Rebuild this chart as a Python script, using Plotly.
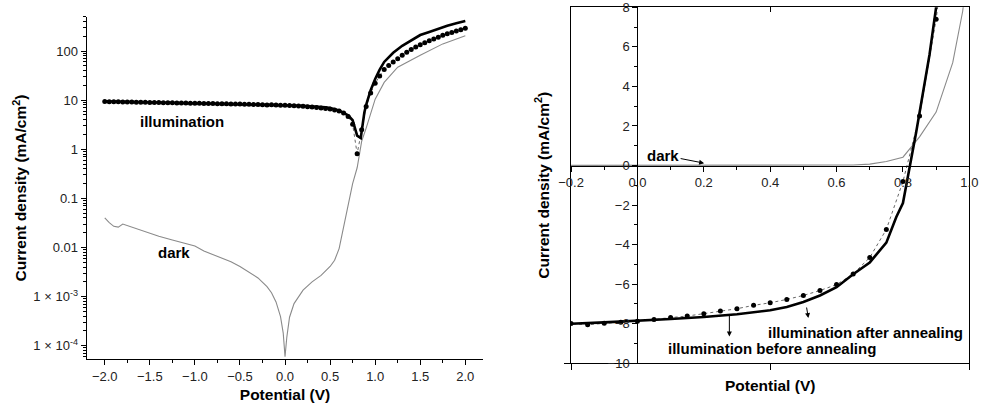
import plotly.graph_objects as go

# ---------------- data ----------------
# illumination before annealing (dots), potential step 0.05 V
v_before = [-2.00, -1.95, -1.90, -1.85, -1.80, -1.75, -1.70, -1.65, -1.60, -1.55,
            -1.50, -1.45, -1.40, -1.35, -1.30, -1.25, -1.20, -1.15, -1.10, -1.05,
            -1.00, -0.95, -0.90, -0.85, -0.80, -0.75, -0.70, -0.65, -0.60, -0.55,
            -0.50, -0.45, -0.40, -0.35, -0.30, -0.25, -0.20, -0.15, -0.10, -0.05,
            0.00, 0.05, 0.10, 0.15, 0.20, 0.25, 0.30, 0.35, 0.40, 0.45,
            0.50, 0.55, 0.60, 0.65, 0.70, 0.75, 0.80, 0.85, 0.90, 0.95,
            1.00, 1.05, 1.10, 1.15, 1.20, 1.25, 1.30, 1.35, 1.40, 1.45,
            1.50, 1.55, 1.60, 1.65, 1.70, 1.75, 1.80, 1.85, 1.90, 1.95, 2.00]
j_before = [-9.35, -9.30, -9.28, -9.25, -9.20, -9.17, -9.13, -9.10, -9.06, -9.02,
            -9.00, -8.96, -8.93, -8.90, -8.86, -8.83, -8.80, -8.76, -8.73, -8.70,
            -8.66, -8.63, -8.60, -8.56, -8.53, -8.50, -8.46, -8.43, -8.40, -8.36,
            -8.33, -8.29, -8.25, -8.20, -8.15, -8.08, -7.99, -8.05, -7.98, -7.92,
            -7.87, -7.78, -7.69, -7.61, -7.49, -7.36, -7.24, -7.07, -6.94, -6.77,
            -6.57, -6.32, -6.02, -5.48, -4.65, -3.23, -0.81, 2.50, 7.40, 14.0,
            22.0, 31.0, 42.0, 51.0, 60.0, 70.0, 82.0, 95.0, 108.0, 121.0,
            135.0, 148.0, 162.0, 177.0, 192.0, 210.0, 225.0, 240.0, 256.0, 273.0, 290.0]

# illumination after annealing (solid line)
v_after = [-2.00, -1.75, -1.50, -1.25, -1.00, -0.75, -0.50, -0.25, -0.20, -0.10,
           0.00, 0.10, 0.20, 0.30, 0.40, 0.45, 0.50, 0.55, 0.60, 0.65,
           0.70, 0.75, 0.78, 0.80, 0.84, 0.86, 0.88, 0.90, 0.95, 1.00,
           1.05, 1.10, 1.20, 1.30, 1.40, 1.50, 1.60, 1.70, 1.80, 1.90, 2.00]
j_after = [-9.50, -9.30, -9.15, -9.00, -8.80, -8.60, -8.40, -8.10, -8.00, -7.93,
           -7.86, -7.76, -7.66, -7.52, -7.32, -7.15, -6.90, -6.57, -6.15, -5.50,
           -4.90, -3.90, -2.60, -1.90, 1.70, 3.60, 5.60, 8.00, 16.0, 27.0,
           42.0, 60.0, 92.0, 128.0, 168.0, 212.0, 245.0, 285.0, 328.0, 370.0, 410.0]

# dark
v_dark = [-2.00, -1.95, -1.90, -1.85, -1.80, -1.70, -1.60, -1.50, -1.40, -1.25,
          -1.10, -1.00, -0.90, -0.80, -0.75, -0.70, -0.60, -0.50, -0.40, -0.30,
          -0.20, -0.15, -0.10, -0.05, -0.02, 0.00, 0.02, 0.05, 0.10, 0.15,
          0.20, 0.30, 0.40, 0.50, 0.55, 0.60, 0.65, 0.70, 0.75, 0.80,
          0.85, 0.90, 0.95, 0.98, 1.00, 1.10, 1.25, 1.50, 1.75, 2.00]
j_dark = [-0.040, -0.032, -0.027, -0.026, -0.030, -0.026, -0.022, -0.0195, -0.017, -0.0142,
          -0.0118, -0.0107, -0.0085, -0.0071, -0.0067, -0.0059, -0.0051, -0.0041, -0.0032, -0.0024,
          -0.0016, -0.0012, -0.00078, -0.00039, -0.00018, 0.00006, 0.00015, 0.00038, 0.00072, 0.0010,
          0.00135, 0.0020, 0.0027, 0.0041, 0.0055, 0.0095, 0.027, 0.070, 0.20, 0.42,
          1.45, 2.70, 5.20, 7.80, 10.5, 23.0, 47.0, 82.0, 140.0, 204.0]

log_tickvals = [1e-4, 1e-3, 0.01, 0.1, 1, 10, 100]
log_ticktext = ["1 × 10<sup>-4</sup>", "1 × 10<sup>-3</sup>", "0.01", "0.1", "1", "10", "100"]
lin_y_tickvals = [-10, -8, -6, -4, -2, 0, 2, 4, 6, 8]
lin_x_tickvals = [-0.2, 0.0, 0.2, 0.4, 0.6, 0.8, 1.0]

# ---------------- layout geometry ----------------
W, H = 981, 403
FONT = "Arial, Liberation Sans, sans-serif"
L_XDOM = [0.0884, 0.4927]
L_YDOM = [0.1084, 0.9586]
R_XDOM = [0.5821, 0.9881]
R_YDOM = [0.0985, 0.9819]
R_XRANGE = [-0.2, 1.0]
R_YRANGE = [-10, 8]
pos_y0 = R_YDOM[0] + (0 - R_YRANGE[0]) / (R_YRANGE[1] - R_YRANGE[0]) * (R_YDOM[1] - R_YDOM[0])
pos_x0 = R_XDOM[0] + (0 - R_XRANGE[0]) / (R_XRANGE[1] - R_XRANGE[0]) * (R_XDOM[1] - R_XDOM[0])

abs_before = [abs(v) for v in j_before]
abs_after = [abs(v) for v in j_after]
abs_dark = [abs(v) for v in j_dark]

fig = go.Figure()

dot_style = dict(mode="lines+markers", marker=dict(color="black", size=5),
                 line=dict(color="#666666", width=1, dash="dot"))
after_style = dict(mode="lines", line=dict(color="black", width=2.6))
dark_style = dict(mode="lines", line=dict(color="#8a8a8a", width=1.1))

# left (log) panel
fig.add_trace(go.Scatter(x=v_dark, y=abs_dark, name="dark", xaxis="x", yaxis="y", **dark_style))
fig.add_trace(go.Scatter(x=v_before, y=abs_before, name="illumination before annealing",
                         xaxis="x", yaxis="y", **dot_style))
fig.add_trace(go.Scatter(x=v_after, y=abs_after, name="illumination after annealing",
                         xaxis="x", yaxis="y", **after_style))

# right (linear) panel
fig.add_trace(go.Scatter(x=v_dark, y=j_dark, name="dark", xaxis="x2", yaxis="y2", **dark_style))
fig.add_trace(go.Scatter(x=v_before, y=j_before, name="illumination before annealing",
                         xaxis="x2", yaxis="y2", **dot_style))
fig.add_trace(go.Scatter(x=v_after, y=j_after, name="illumination after annealing",
                         xaxis="x2", yaxis="y2", **after_style))

# empty traces so the axes crossing at zero (and the top frame axis) get drawn
fig.add_trace(go.Scatter(x=[], y=[], xaxis="x3", yaxis="y2", showlegend=False, hoverinfo="skip"))
fig.add_trace(go.Scatter(x=[], y=[], xaxis="x2", yaxis="y3", showlegend=False, hoverinfo="skip"))
fig.add_trace(go.Scatter(x=[], y=[], xaxis="x4", yaxis="y2", showlegend=False, hoverinfo="skip"))

tickfont = dict(family=FONT, size=13, color="#222222")
titlefont = dict(family=FONT, size=15.5, color="black", weight="bold")

common_axis = dict(showgrid=False, zeroline=False, showline=True, linecolor="black",
                   linewidth=1.3, ticks="outside", tickcolor="black", tickwidth=1.2,
                   tickfont=tickfont, automargin=False)

fig.update_layout(
    width=W, height=H,
    margin=dict(l=0, r=0, t=0, b=0),
    paper_bgcolor="white", plot_bgcolor="white",
    showlegend=False,
    font=dict(family=FONT, color="black"),
    xaxis=dict(**common_axis, domain=L_XDOM, anchor="y", range=[-2.2, 2.2],
               tick0=-2, dtick=0.5, tickformat=".1f", ticklen=5,
               minor=dict(dtick=0.25, ticks="outside", ticklen=3, tickcolor="black"),
               title=dict(text="Potential (V)", font=dict(**titlefont), standoff=10)),
    yaxis=dict(**common_axis, domain=L_YDOM, anchor="x", type="log", range=[-4.277, 2.70],
               tickmode="array", tickvals=log_tickvals, ticktext=log_ticktext, ticklen=5,
               minor=dict(dtick="D1", ticks="outside", ticklen=3, tickcolor="black"),
               title=dict(text="Current density (mA/cm<sup>2</sup>)", font=dict(**titlefont), standoff=2)),
    # right panel frame
    xaxis2=dict(**common_axis, domain=R_XDOM, anchor="y2", range=R_XRANGE,
                tickmode="array", tickvals=[-0.2, 0.4, 1.0], showticklabels=False, ticklen=6,
                mirror=True,
                title=dict(text="Potential (V)", font=dict(**titlefont), standoff=10)),
    yaxis2=dict(**common_axis, domain=R_YDOM, anchor="x2", range=R_YRANGE,
                tickmode="array", tickvals=[-10], showticklabels=False, ticklen=6,
                mirror=True,
                title=dict(text="Current density (mA/cm<sup>2</sup>)", font=dict(**titlefont), standoff=10)),
    # top frame ticks pointing inside
    xaxis4=dict(**{**common_axis, "ticks": "inside"}, overlaying="x2", anchor="y2", side="top",
                range=R_XRANGE, tickmode="array", tickvals=[-0.2, 0.4, 1.0],
                showticklabels=False, ticklen=5),
    # inner axes crossing at zero
    xaxis3=dict(**common_axis, overlaying="x2", anchor="free", position=pos_y0, side="bottom",
                range=R_XRANGE, tickmode="array", tickvals=lin_x_tickvals, tickformat=".1f", ticklen=5,
                minor=dict(tickmode="linear", tick0=-0.2, dtick=0.1, ticks="outside", ticklen=3,
                           tickcolor="black")),
    yaxis3=dict(**common_axis, overlaying="y2", anchor="free", position=pos_x0, side="left",
                range=R_YRANGE, tickmode="array", tickvals=lin_y_tickvals, ticklen=5,
                ticklabeloverflow="allow",
                minor=dict(tickmode="linear", tick0=-10, dtick=1, ticks="outside", ticklen=3,
                           tickcolor="black")),
)

ann_font = dict(family=FONT, size=15, color="black", weight="bold")
arrow_style = dict(showarrow=True, arrowhead=2, arrowsize=1, arrowwidth=1, arrowcolor="black")
annotations = [
    dict(text="illumination", x=-1.14, y=0.564, xref="x", yref="y", showarrow=False, font=ann_font),
    dict(text="dark", x=-1.23, y=-2.11, xref="x", yref="y", showarrow=False, font=ann_font),
    # right "dark" label with its arrow pointing to the dark curve
    dict(text="dark", x=0.201, y=0.12, xref="x2", yref="y2", ax=-41, ay=-8,
         font=ann_font, **arrow_style),
    dict(text="illumination after annealing", x=0.686, y=-8.43, xref="x2", yref="y2",
         showarrow=False, font=ann_font),
    dict(text="illumination before annealing", x=0.404, y=-9.24, xref="x2", yref="y2",
         showarrow=False, font=ann_font),
    # arrows from curves towards labels
    dict(text="", x=0.515, y=-7.71, xref="x2", yref="y2", ax=-2, ay=-12, **arrow_style),
    dict(text="", x=0.277, y=-8.64, xref="x2", yref="y2", ax=0, ay=-23, **arrow_style),
]
fig.update_layout(annotations=annotations)

fig.write_html("out.html")
